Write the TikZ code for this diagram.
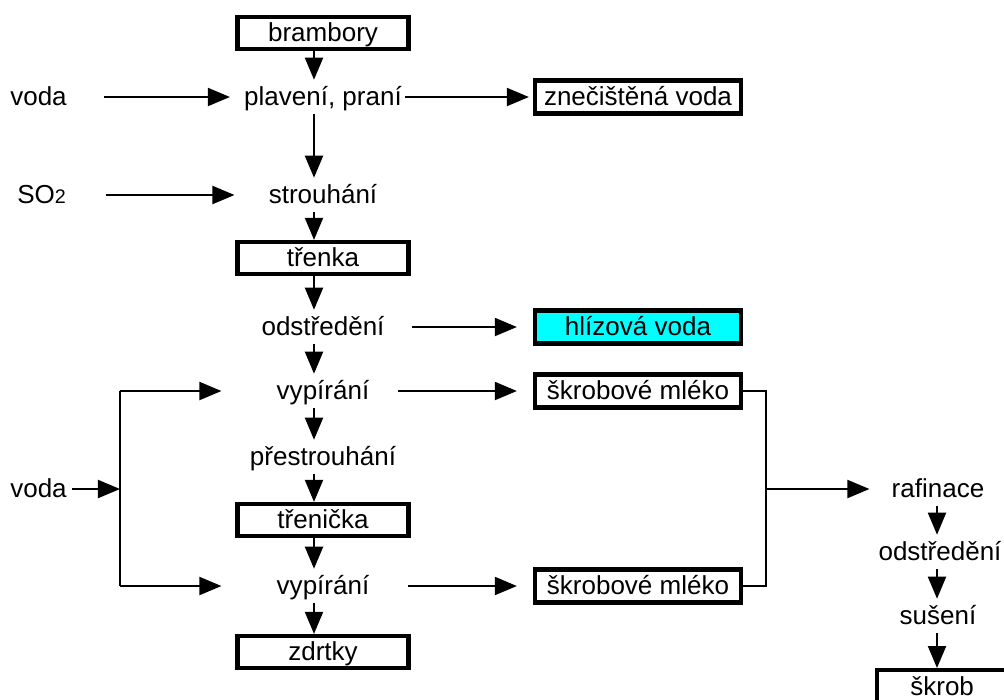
\documentclass[tikz,border=0pt]{standalone}
\usepackage{fontspec}
\setmainfont{Liberation Sans}
\usetikzlibrary{arrows.meta}
\definecolor{hlizova}{HTML}{00FFFF}

\begin{document}
\begin{tikzpicture}[x=0.025cm, y=-0.025cm,
        every node/.style={font=\fontsize{18.5}{22}\selectfont, inner sep=0pt, text height=15pt, text depth=3pt},
        txt/.style={minimum height=0.85cm},
        box/.style={draw, line width=3pt, minimum width=4.275cm, minimum height=0.8cm},
        widebox/.style={box, minimum width=5.15cm, minimum height=0.825cm},
        ln/.style={line width=1.4pt},
        arr/.style={ln, -{Triangle[length=0.55cm,width=0.45cm]}}]
        \useasboundingbox (0,0) rectangle (1004,699);
        % hlavni linka
        \node[box] (brambory) at (323,33) {brambory};
        \node[txt] (plaveni) at (323,97) {plavení, praní};
        \node[txt] (strouhani) at (323,195) {strouhání};
        \node[box] (trenka) at (323,258) {třenka};
        \node[txt] (odstred1) at (323,327) {odstředění};
        \node[txt] (vypirani1) at (323,391) {vypírání};
        \node[txt] (prestrouhani) at (323,457) {přestrouhání};
        \node[box] (trenicka) at (323,520) {třenička};
        \node[txt] (vypirani2) at (323,586) {vypírání};
        \node[box] (zdrtky) at (323,652) {zdrtky};
        % vstupy
        \node[txt, anchor=west] (voda1) at (10,97) {voda};
        \node[txt, anchor=west] (so2) at (17,195) {SO{\fontsize{14}{16}\selectfont 2}};
        \node[txt, anchor=west] (voda2) at (10,489) {voda};
        % vystupy
        \node[widebox] (znec) at (638,97) {znečištěná voda};
        \node[widebox, fill=hlizova] (hlizova) at (638,327) {hlízová voda};
        \node[widebox] (mleko1) at (638,391) {škrobové mléko};
        \node[widebox] (mleko2) at (638,586) {škrobové mléko};
        % rafinace
        \node[txt] (rafinace) at (938,489) {rafinace};
        \node[txt] (odstred2) at (940,552) {odstředění};
        \node[txt] (suseni) at (938,616) {sušení};
        \node[box, anchor=north west, minimum width=3.25cm, minimum height=0.85cm] (skrob) at (875,668) {škrob};

        \coordinate (col) at (314,0);
        \coordinate (col2) at (937,0);
        \coordinate (lb) at (120,489);
        \coordinate (rb) at (766,489);

        \draw[arr] (brambory.south -| col) -- (plaveni.north -| col);
        \draw[arr] (plaveni.south -| col) -- (strouhani.north -| col);
        \draw[arr] (strouhani.south -| col) -- (trenka.north -| col);
        \draw[arr] (trenka.south -| col) -- (odstred1.north -| col);
        \draw[arr] (odstred1.south -| col) -- (vypirani1.north -| col);
        \draw[arr] (vypirani1.south -| col) -- (prestrouhani.north -| col);
        \draw[arr] (prestrouhani.south -| col) -- (trenicka.north -| col);
        \draw[arr] (trenicka.south -| col) -- (vypirani2.north -| col);
        \draw[arr] (vypirani2.south -| col) -- (zdrtky.north -| col);

        \draw[arr, shorten <=0.925cm, shorten >=0.35cm] (voda1.east) -- (plaveni.west);
        \draw[arr, shorten <=0.075cm, shorten >=0.1cm] (plaveni.east) -- (znec.west);
        \draw[arr, shorten <=1cm, shorten >=0.85cm] (so2.east) -- (strouhani.west);
        \draw[arr, shorten <=0.69cm, shorten >=0.4cm] (odstred1.east) -- (hlizova.west);
        \draw[arr, shorten <=0.71cm, shorten >=0.4cm] (vypirani1.east) -- (mleko1.west);
        \draw[arr, shorten <=0.96cm, shorten >=0.4cm] (vypirani2.east) -- (mleko2.west);

        \draw[arr, shorten <=0.125cm] (voda2.east) -- (lb);
        \draw[ln] (vypirani1.west -| lb) -- (vypirani2.west -| lb);
        \draw[arr, shorten >=1.375cm] (vypirani1.west -| lb) -- (vypirani1.west);
        \draw[arr, shorten >=1.375cm] (vypirani2.west -| lb) -- (vypirani2.west);

        \draw[ln] (mleko1.east) -| (rb) |- (mleko2.east);
        \draw[arr, shorten >=0.55cm] (rb) -- (rafinace.west);

        \draw[arr] (rafinace.south -| col2) -- (odstred2.north -| col2);
        \draw[arr] (odstred2.south -| col2) -- (suseni.north -| col2);
        \draw[arr] (suseni.south -| col2) -- (skrob.north -| col2);
    \end{tikzpicture}
\end{document}
